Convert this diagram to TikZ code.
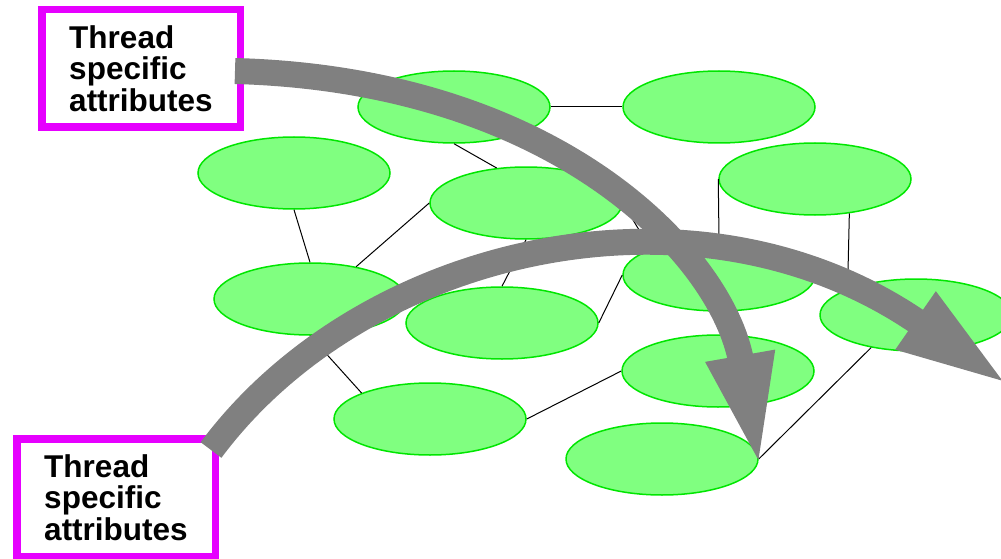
\documentclass[tikz,border=0pt]{standalone}
\usepackage{fontspec}
\setmainfont{Liberation Sans}
\usepackage{xcolor}
\usepackage{tikz}
\usetikzlibrary{arrows.meta, shapes}

\definecolor{objgreen}{RGB}{128,255,128}
\definecolor{objedge}{RGB}{0,230,0}
\definecolor{tsamagenta}{RGB}{230,0,255}
\definecolor{flowgray}{RGB}{128,128,128}

\begin{document}
\begin{tikzpicture}[
    x=1pt, y=-1pt,
    obj/.style={draw=objedge, fill=objgreen, ellipse, line width=1.5pt, minimum width=192pt, minimum height=72pt, inner sep=0pt},
    tsa/.style={draw=tsamagenta, line width=7.5pt, rectangle, minimum width=198.5pt, minimum height=117.5pt, align=left, inner sep=0pt, font=\fontsize{31.5}{31.5}\selectfont\bfseries},
    link/.style={draw, line width=1pt},
    flow/.style={draw=flowgray, line width=26pt, -{Triangle[length=115pt, width=62pt]}}
]
    \useasboundingbox (0,0) rectangle (1001,559);

    % objects
    \node[obj] (o1) at (454,107) {};
    \node[obj] (o2) at (719,107) {};
    \node[obj] (o3) at (294,173) {};
    \node[obj] (o4) at (526,203) {};
    \node[obj] (o5) at (815,179) {};
    \node[obj] (o6) at (310,299) {};
    \node[obj] (o7) at (502,323) {};
    \node[obj] (o8) at (719,275) {};
    \node[obj] (o9) at (916,315) {};
    \node[obj] (o10) at (718,371) {};
    \node[obj] (o11) at (662,459) {};
    \node[obj] (o12) at (430,419) {};

    \draw[link] (o1.east) -- (o2.west);
    \draw[link] (o1.south) -- (o4.130);
    \draw[link] (o3.south) -- (o6.north);
    \draw[link] (o4.west) -- (o6.35);
    \draw[link] (o4.south) -- (o7.north);
    \draw[link] (o4.east) -- (o8.north west);
    \draw[link] (o7.east) -- (o8.west);
    \draw[link] (o5.west) -- (o8.north);
    \draw[link] (o5.-45) -- (o9.north west);
    \draw[link] (o6.south) -- (o12.north west);
    \draw[link] (o12.east) -- (o10.west);
    \draw[link] (o11.east) -- (o9.216);

    % thread specific attributes
    \node[tsa] (tsaTop) at (141,68.5) {Thread\\specific\\attributes};
    \node[tsa] (tsaBot) at (116,497.5) {Thread\\specific\\attributes};

    \coordinate (endTop) at (760,469);
    \coordinate (endBot) at (1010,386);
    \draw[flow] ([xshift=-9pt,yshift=-2.5pt]tsaTop.east) .. controls (560,80) and (723,258) .. (endTop);
    \draw[flow] ([xshift=-8pt,yshift=-15pt]tsaBot.north east) .. controls (362,247) and (696,168) .. (endBot);
\end{tikzpicture}
\end{document}
